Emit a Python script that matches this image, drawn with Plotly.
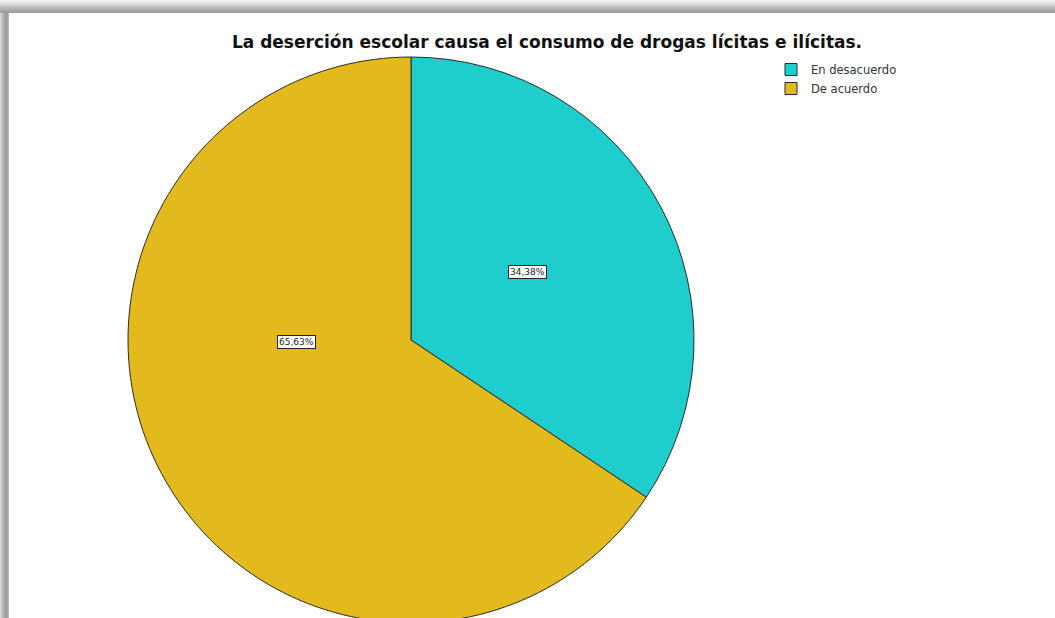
import plotly.graph_objects as go
from decimal import Decimal, ROUND_HALF_UP

# ---- data ----
categories = ["En desacuerdo", "De acuerdo"]
counts = [11, 21]
colors = ["#20CDCD", "#E2BA1B"]
title_text = "La deserción escolar causa el consumo de drogas lícitas e ilícitas."

W, H = 1055, 640
L, T, R_PIE = 128, 57, 283
B = H - T - 2 * R_PIE
Rm = W - L - 2 * R_PIE
PW, PH = 2 * R_PIE, 2 * R_PIE


def px(x):
    return (x - L) / PW


def py(y):
    return 1 - (y - T) / PH


total = sum(counts)


def fmt_pct(v):
    d = (Decimal(v) * 100 / Decimal(total)).quantize(Decimal("0.01"), rounding=ROUND_HALF_UP)
    return str(d).replace(".", ",") + "%"


pct_labels = [fmt_pct(v) for v in counts]

fig = go.Figure()
fig.add_trace(go.Pie(
    labels=categories,
    values=counts,
    sort=False,
    direction="clockwise",
    rotation=0,
    textinfo="none",
    hoverinfo="label+percent",
    marker=dict(colors=colors, line=dict(color="#2b2b2b", width=1)),
    domain=dict(x=[0, 1], y=[0, 1]),
    showlegend=True,
))

# percent label boxes
label_pos = [(527, 272), (296, 342)]
for txt, (lx, ly) in zip(pct_labels, label_pos):
    fig.add_annotation(
        x=px(lx), y=py(ly), xref="paper", yref="paper",
        xanchor="center", yanchor="middle",
        text=txt, showarrow=False,
        font=dict(family="DejaVu Sans", size=9, color="#222"),
        bgcolor="white", bordercolor="#222", borderwidth=1, borderpad=1,
    )

# shadow frame (top and left bands)
shapes = []
top_grays = [242, 236, 230, 222, 214, 206, 198, 190, 182, 174, 168, 162, 160]
for i, g in enumerate(top_grays):
    shapes.append(dict(type="rect", xref="paper", yref="paper",
                       x0=px(0), x1=px(W), y0=py(i + 1), y1=py(i),
                       fillcolor=f"rgb({g},{g},{g})", line=dict(width=0), layer="above"))
left_grays = [215, 200, 188, 176, 166, 160, 156, 165, 185]
for i, g in enumerate(left_grays):
    shapes.append(dict(type="rect", xref="paper", yref="paper",
                       x0=px(i), x1=px(i + 1), y0=py(H), y1=py(len(top_grays)),
                       fillcolor=f"rgb({g},{g},{g})", line=dict(width=0), layer="above"))
fig.update_layout(shapes=shapes)

fig.update_layout(
    width=W, height=H,
    margin=dict(l=L, r=Rm, t=T, b=B, pad=0),
    paper_bgcolor="white", plot_bgcolor="white",
    title=dict(text="<b>" + title_text + "</b>", xref="paper", x=px(547), xanchor="center",
               yref="container", y=1 - 42 / H, yanchor="middle",
               font=dict(family="DejaVu Sans", size=17, color="#111")),
    legend=dict(x=px(771), y=py(55), xanchor="left", yanchor="top",
                font=dict(family="DejaVu Sans", size=11.5, color="#333"),
                bgcolor="rgba(0,0,0,0)", itemwidth=30, tracegroupgap=0),
)

fig.write_html("out.html", config={"displayModeBar": False},
               post_script="document.body.style.margin='0';document.body.style.overflow='hidden';")
